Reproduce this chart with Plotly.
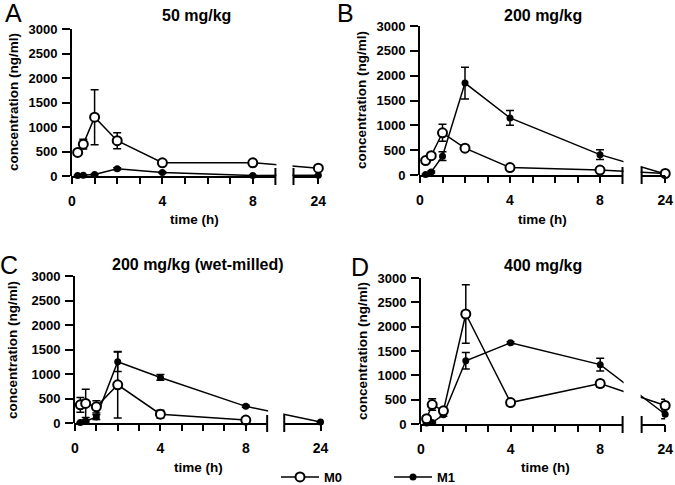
import plotly.graph_objects as go

W, H = 675, 485

# ---------------- data ----------------
times = [0.25, 0.5, 1, 2, 4, 8, 24]
titles = ["50 mg/kg", "200 mg/kg", "200 mg/kg (wet-milled)", "400 mg/kg"]
letters = ["A", "B", "C", "D"]
y_ticks = [0, 500, 1000, 1500, 2000, 2500, 3000]
x_major = [0, 4, 8, 24]
x_major_labels = ["0", "4", "8", "24"]
x_minor = [1, 2, 3, 5, 6, 7]
series_names = ["M0", "M1"]

m0_a = [480, 650, 1200, 720, 270, 270, 160]
m0_a_err = [40, 100, 560, 165, 30, 20, 20]
m1_a = [10, 15, 30, 150, 70, 10, 15]
m1_a_err = [5, 5, 10, 20, 15, 5, 5]

m0_b = [290, 390, 850, 540, 150, 100, 30]
m0_b_err = [30, 40, 170, 40, 30, 20, 10]
m1_b = [10, 60, 380, 1850, 1150, 410, 20]
m1_b_err = [5, 20, 90, 320, 150, 100, 5]

m0_c = [370, 400, 330, 780, 180, 60, None]
m0_c_err = [150, 290, 125, 680, 80, 20, 0]
m1_c = [10, 40, 120, 1250, 930, 340, 20]
m1_c_err = [5, 20, 50, 200, 60, 20, 5]

m0_d = [110, 400, 270, 2260, 440, 830, 380]
m0_d_err = [40, 120, 50, 600, 60, 70, 130]
m1_d = [20, 30, 190, 1300, 1670, 1220, 200]
m1_d_err = [10, 10, 30, 170, 20, 130, 90]

panel_data = [
    (m0_a, m0_a_err, m1_a, m1_a_err),
    (m0_b, m0_b_err, m1_b, m1_b_err),
    (m0_c, m0_c_err, m1_c, m1_c_err),
    (m0_d, m0_d_err, m1_d, m1_d_err),
]

# ---------------- layout geometry (pixels) ----------------
SEG_END = 9  # end of first x-axis segment (h)
panels = [
    dict(x0=72, ppu=22.6, seg2=9.8, pos24=10.9, top=29, bot=176,
         title=(196, 15), letter=(13, 13), ytitle=(13, 102), xtitle=(195, 220)),
    dict(x0=420, ppu=22.5, seg2=9.85, pos24=10.9, top=26, bot=175,
         title=(543, 15), letter=(345, 13), ytitle=(362, 100), xtitle=(542, 220)),
    dict(x0=75, ppu=21.35, seg2=9.8, pos24=11.5, top=276, bot=423,
         title=(198, 264), letter=(9, 265), ytitle=(12, 350), xtitle=(198, 467)),
    dict(x0=421, ppu=22.4, seg2=9.85, pos24=10.9, top=278, bot=424,
         title=(543, 265), letter=(360, 267), ytitle=(362, 351), xtitle=(545, 467)),
]

FONT = "Liberation Sans, Arial, sans-serif"


def px2x(px):
    return px / W


def py2y(py):
    return 1 - py / H


def xpos(t, p):
    # broken axis: 0..9 h linear, then the 24 h segment
    if t <= SEG_END:
        return t
    return p["pos24"] + (t - 24) * 1.0


def bold(s):
    return "<b>" + s + "</b>"


fig = go.Figure()
shapes = []
annotations = []

for i, (p, (m0, m0e, m1, m1e)) in enumerate(zip(panels, panel_data)):
    n = "" if i == 0 else str(i + 1)
    xa, ya = "x" + n, "y" + n
    xs = [xpos(t, p) for t in times]

    # M1 (filled) then M0 (open) on top
    fig.add_trace(go.Scatter(
        x=xs, y=m1, xaxis=xa, yaxis=ya, mode="lines+markers", name=bold(series_names[1]),
        legendrank=2, showlegend=(i == 0), cliponaxis=False,
        line=dict(color="black", width=1.5),
        marker=dict(symbol="circle", size=7, color="black"),
        error_y=dict(type="data", array=m1e, symmetric=True, color="black",
                     thickness=1.5, width=4),
    ))
    fig.add_trace(go.Scatter(
        x=xs, y=m0, xaxis=xa, yaxis=ya, mode="lines+markers", name=bold(series_names[0]),
        legendrank=1, showlegend=(i == 0), cliponaxis=False,
        line=dict(color="black", width=1.5),
        marker=dict(symbol="circle", size=9, color="white",
                    line=dict(color="black", width=2)),
        error_y=dict(type="data", array=m0e, symmetric=True, color="black",
                     thickness=1.5, width=4),
    ))

    x_end_px = p["x0"] + p["pos24"] * p["ppu"]
    fig.layout["xaxis" + n] = dict(
        domain=[px2x(p["x0"]), px2x(x_end_px)], range=[0, p["pos24"]],
        anchor=ya, showline=False, showgrid=False, zeroline=False, automargin=False,
        tickmode="array", tickvals=[xpos(t, p) for t in x_major],
        ticktext=[bold(s) for s in x_major_labels], ticks="outside", ticklen=7,
        tickwidth=2, tickcolor="black", ticklabelstandoff=5,
        tickfont=dict(family=FONT, size=14, color="black"),
        minor=dict(tickmode="array", tickvals=x_minor, ticks="outside",
                   ticklen=7, tickwidth=2, tickcolor="black"),
    )
    fig.layout["yaxis" + n] = dict(
        domain=[py2y(p["bot"]), py2y(p["top"])], range=[0, 3000],
        anchor=xa, showline=True, linewidth=2, linecolor="black", automargin=False,
        showgrid=False, zeroline=False, tickmode="array", tickvals=y_ticks,
        ticktext=[bold(str(v)) for v in y_ticks],
        ticks="outside", ticklen=8, tickwidth=2, tickcolor="black",
        ticklabelstandoff=2,
        tickfont=dict(family=FONT, size=13, color="black"),
    )

    def xpx(pos, p=p):
        return p["x0"] + pos * p["ppu"]

    # white cover for the axis break
    shapes.append(dict(type="rect", xref="paper", yref="paper", layer="above",
                       x0=px2x(xpx(SEG_END) + 1), x1=px2x(xpx(p["seg2"]) - 1),
                       y0=py2y(p["bot"] + 1), y1=py2y(p["top"] - 2),
                       fillcolor="white", line=dict(width=0)))
    # x-axis line segments
    shapes.append(dict(type="line", xref="paper", yref="paper", layer="above",
                       x0=px2x(p["x0"] - 1), x1=px2x(xpx(SEG_END)),
                       y0=py2y(p["bot"] + 1), y1=py2y(p["bot"] + 1),
                       line=dict(color="black", width=2)))
    shapes.append(dict(type="line", xref="paper", yref="paper", layer="above",
                       x0=px2x(xpx(p["seg2"])), x1=px2x(x_end_px),
                       y0=py2y(p["bot"] + 1), y1=py2y(p["bot"] + 1),
                       line=dict(color="black", width=2)))
    # break caps
    for cap in (SEG_END, p["seg2"]):
        shapes.append(dict(type="line", xref="paper", yref="paper", layer="above",
                           x0=px2x(xpx(cap)), x1=px2x(xpx(cap)),
                           y0=py2y(p["bot"] - 8), y1=py2y(p["bot"] + 9),
                           line=dict(color="black", width=2)))

    annotations.append(dict(text=bold(titles[i]), xref="paper", yref="paper",
                            x=px2x(p["title"][0]), y=py2y(p["title"][1]),
                            xanchor="center", yanchor="middle", showarrow=False,
                            font=dict(family=FONT, size=16, color="black")))
    annotations.append(dict(text=letters[i], xref="paper", yref="paper",
                            x=px2x(p["letter"][0]), y=py2y(p["letter"][1]),
                            xanchor="center", yanchor="middle", showarrow=False,
                            font=dict(family=FONT, size=25, color="black")))
    annotations.append(dict(text=bold("concentration (ng/ml)"), xref="paper", yref="paper",
                            x=px2x(p["ytitle"][0]), y=py2y(p["ytitle"][1]),
                            xanchor="center", yanchor="middle", showarrow=False,
                            textangle=-90,
                            font=dict(family=FONT, size=13.5, color="black")))
    annotations.append(dict(text=bold("time (h)"), xref="paper", yref="paper",
                            x=px2x(p["xtitle"][0]), y=py2y(p["xtitle"][1]),
                            xanchor="center", yanchor="middle", showarrow=False,
                            font=dict(family=FONT, size=13.5, color="black")))

fig.update_layout(
    width=W, height=H, margin=dict(l=0, r=0, t=0, b=0, autoexpand=False),
    paper_bgcolor="white", plot_bgcolor="white",
    shapes=shapes, annotations=annotations,
    showlegend=True,
    legend=dict(orientation="h", x=px2x(276), y=py2y(477), xanchor="left",
                yanchor="middle", entrywidth=60, entrywidthmode="pixels",
                itemwidth=38,
                bgcolor="rgba(0,0,0,0)", borderwidth=0,
                font=dict(family=FONT, size=13, color="black"),
                traceorder="normal"),
)

fig.write_html(
    "out.html",
    config={"displayModeBar": False},
    post_script="document.body.style.margin='0';document.body.style.overflow='hidden';",
)
